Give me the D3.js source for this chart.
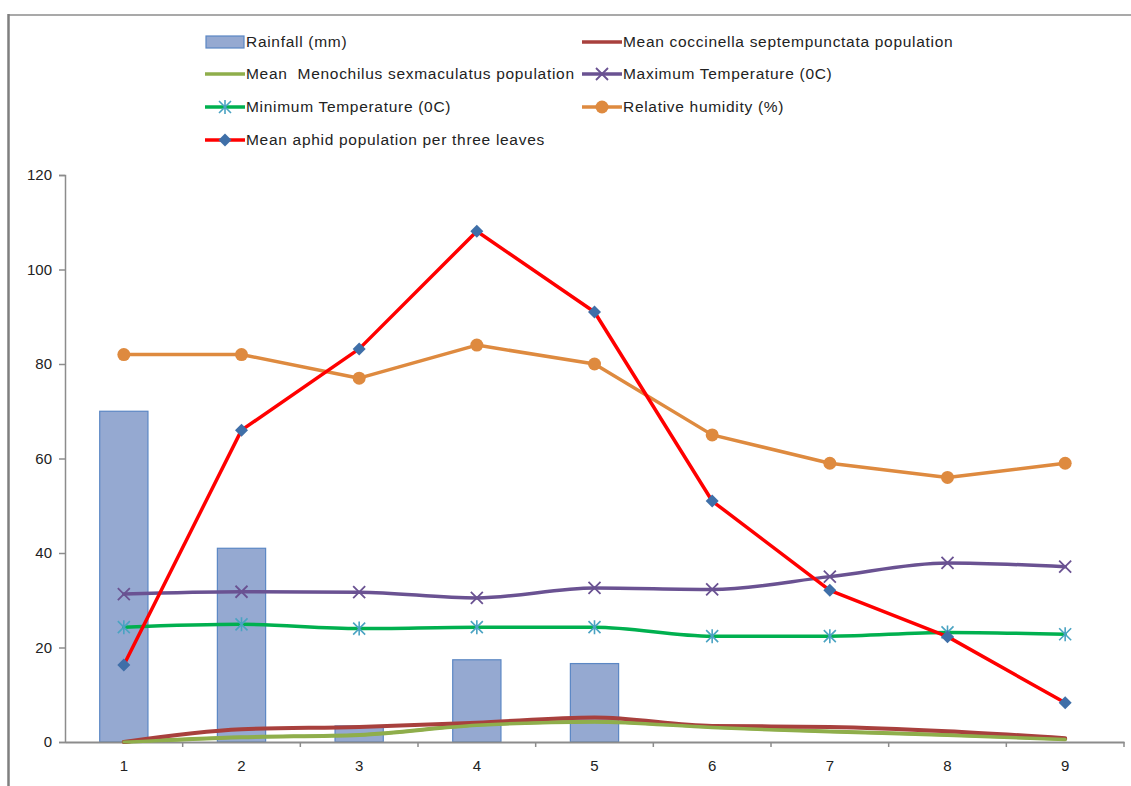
<!DOCTYPE html>
<html>
<head>
<meta charset="utf-8">
<script src="https://cdn.jsdelivr.net/npm/d3@7"></script>
<style>
  html, body { margin: 0; padding: 0; background: #fff; }
  svg { display: block; font-family: "Liberation Sans", Arial, sans-serif; }
</style>
</head>
<body>
<svg id="chart" width="1131" height="786"></svg>
<script>
// Weekly observations 1..9
const weeks = [1, 2, 3, 4, 5, 6, 7, 8, 9];
const rainfall = [70, 41, 3.4, 17.4, 16.6, 0, 0, 0, 0];
const coccinella = [0, 2.7, 3.2, 4.1, 5.2, 3.4, 3.2, 2.3, 0.8];
const menochilus = [0, 1.0, 1.5, 3.6, 4.3, 3.1, 2.2, 1.5, 0.6];
const maxTemp = [31.3, 31.8, 31.7, 30.5, 32.6, 32.3, 35.0, 37.9, 37.1];
const minTemp = [24.3, 24.9, 24.0, 24.3, 24.3, 22.4, 22.4, 23.2, 22.8];
const humidity = [82, 82, 77, 84, 80, 65, 59, 56, 59];
const aphids = [16.3, 66, 83.2, 108.1, 91, 51, 32.1, 22.3, 8.3];
const yTicks = [0, 20, 40, 60, 80, 100, 120];

const svg = d3.select("#chart");

// outer chart frame (top and left edges)
svg.append("line").attr("x1", 8).attr("x2", 1131).attr("y1", 15).attr("y2", 15)
  .attr("stroke", "#8c8c8c").attr("stroke-width", 1.5);
svg.append("line").attr("x1", 8.5).attr("x2", 8.5).attr("y1", 14).attr("y2", 786)
  .attr("stroke", "#7f7f7f").attr("stroke-width", 2.5);

const plot = { left: 65, right: 1124, top: 175, bottom: 742 };

const x = d3.scaleBand().domain(weeks).range([plot.left, plot.right]).padding(0);
const cx = d => x(d) + x.bandwidth() / 2;
const y = d3.scaleLinear().domain([0, 120]).range([plot.bottom, plot.top]);

// Rainfall bars
const barW = x.bandwidth() * 0.41;
svg.append("g").selectAll("rect")
  .data(weeks.map((w, i) => ({ w, v: rainfall[i] })).filter(d => d.v > 0))
  .join("rect")
  .attr("x", d => cx(d.w) - barW / 2)
  .attr("y", d => y(d.v))
  .attr("width", barW)
  .attr("height", d => y(0) - y(d.v))
  .attr("fill", "#95a9d1")
  .attr("stroke", "#5b87c4")
  .attr("stroke-width", 1.2);

// Axes
const yAxis = d3.axisLeft(y).tickValues(yTicks).tickSize(6).tickPadding(7);
const gy = svg.append("g").attr("transform", `translate(${plot.left},0)`).call(yAxis);
gy.select(".domain").attr("stroke", "#8c8c8c").attr("stroke-width", 1.5);
gy.selectAll(".tick line").attr("stroke", "#8c8c8c").attr("stroke-width", 1.5);
gy.selectAll(".tick text").attr("font-size", 15).attr("fill", "#222");

const xAxis = d3.axisBottom(x).tickSize(0).tickPadding(18);
const gx = svg.append("g").attr("transform", `translate(0,${plot.bottom})`).call(xAxis);
gx.select(".domain").attr("stroke", "#8c8c8c").attr("stroke-width", 2);
gx.selectAll(".tick text").attr("font-size", 15).attr("fill", "#222");
// category boundary tick marks
gx.selectAll(".sep").data(weeks.slice(1).concat(["end"])).join("line")
  .attr("x1", d => d === "end" ? plot.right : x(d))
  .attr("x2", d => d === "end" ? plot.right : x(d))
  .attr("y1", 0).attr("y2", 5)
  .attr("stroke", "#8c8c8c").attr("stroke-width", 1.5);

const smooth = d3.line().x((d, i) => cx(weeks[i])).y(d => y(d)).curve(d3.curveMonotoneX);
const straight = d3.line().x((d, i) => cx(weeks[i])).y(d => y(d));

function series(values, color, width, gen) {
  svg.append("path").datum(values).attr("d", gen)
    .attr("fill", "none").attr("stroke", color).attr("stroke-width", width)
    .attr("stroke-linejoin", "round").attr("stroke-linecap", "round");
}

// markers
function xMark(g, px, py, color) {
  const s = 6;
  g.append("path").attr("d", `M${px - s},${py - s}L${px + s},${py + s}M${px - s},${py + s}L${px + s},${py - s}`)
    .attr("stroke", color).attr("stroke-width", 1.8).attr("fill", "none");
}
function starMark(g, px, py, color) {
  const s = 6;
  g.append("path").attr("d", `M${px - s},${py - s}L${px + s},${py + s}M${px - s},${py + s}L${px + s},${py - s}M${px},${py - s - 1}L${px},${py + s + 1}`)
    .attr("stroke", color).attr("stroke-width", 1.6).attr("fill", "none");
}
function diamond(g, px, py, color) {
  const s = 6.5;
  g.append("path").attr("d", `M${px},${py - s}L${px + s},${py}L${px},${py + s}L${px - s},${py}Z`).attr("fill", color);
}

series(menochilus, "#8fae4b", 4, smooth);
series(coccinella, "#a8403d", 4, smooth);
series(menochilus, "#8fae4b", 3, smooth);

series(maxTemp, "#6a5292", 3.5, smooth);
const gMax = svg.append("g");
maxTemp.forEach((v, i) => xMark(gMax, cx(weeks[i]), y(v), "#6a5292"));

series(minTemp, "#00b04f", 3.5, smooth);
const gMin = svg.append("g");
minTemp.forEach((v, i) => starMark(gMin, cx(weeks[i]), y(v), "#4aa3c2"));

series(humidity, "#de8a3f", 3.5, straight);
svg.append("g").selectAll("circle").data(humidity).join("circle")
  .attr("cx", (d, i) => cx(weeks[i])).attr("cy", d => y(d)).attr("r", 6.5)
  .attr("fill", "#de8a3f");

series(aphids, "#ff0000", 3.5, straight);
const gAph = svg.append("g");
aphids.forEach((v, i) => diamond(gAph, cx(weeks[i]), y(v), "#3f6fa8"));

// Legend
const legend = [
  { label: "Rainfall (mm)", type: "bar", col: 0, row: 0 },
  { label: "Mean coccinella septempunctata population", type: "line", color: "#a8403d", col: 1, row: 0 },
  { label: "Mean  Menochilus sexmaculatus population", type: "line", color: "#8fae4b", col: 0, row: 1 },
  { label: "Maximum Temperature (0C)", type: "x", color: "#6a5292", col: 1, row: 1 },
  { label: "Minimum Temperature (0C)", type: "star", color: "#00b04f", mark: "#4aa3c2", col: 0, row: 2 },
  { label: "Relative humidity (%)", type: "circle", color: "#de8a3f", col: 1, row: 2 },
  { label: "Mean aphid population per three leaves", type: "diamond", color: "#ff0000", mark: "#3f6fa8", col: 0, row: 3 }
];
const colX = [205, 582];
const rowY = [42, 74, 107, 140];
const gl = svg.append("g");
legend.forEach(d => {
  const lx = colX[d.col], ly = rowY[d.row];
  if (d.type === "bar") {
    gl.append("rect").attr("x", lx + 1).attr("y", ly - 6).attr("width", 38).attr("height", 12)
      .attr("fill", "#95a9d1").attr("stroke", "#5b87c4").attr("stroke-width", 1.2);
  } else {
    gl.append("line").attr("x1", lx).attr("x2", lx + 40).attr("y1", ly).attr("y2", ly)
      .attr("stroke", d.color).attr("stroke-width", 3.5);
    const mx = lx + 20;
    if (d.type === "x") xMark(gl, mx, ly, d.color);
    if (d.type === "star") starMark(gl, mx, ly, d.mark);
    if (d.type === "circle") gl.append("circle").attr("cx", mx).attr("cy", ly).attr("r", 6.5).attr("fill", d.color);
    if (d.type === "diamond") diamond(gl, mx, ly, d.mark);
  }
  gl.append("text").attr("x", lx + 41).attr("y", ly + 5).attr("font-size", 15.5)
    .attr("letter-spacing", "0.7px").attr("fill", "#222")
    .attr("xml:space", "preserve").style("white-space", "pre").text(d.label);
});
</script>
</body>
</html>
